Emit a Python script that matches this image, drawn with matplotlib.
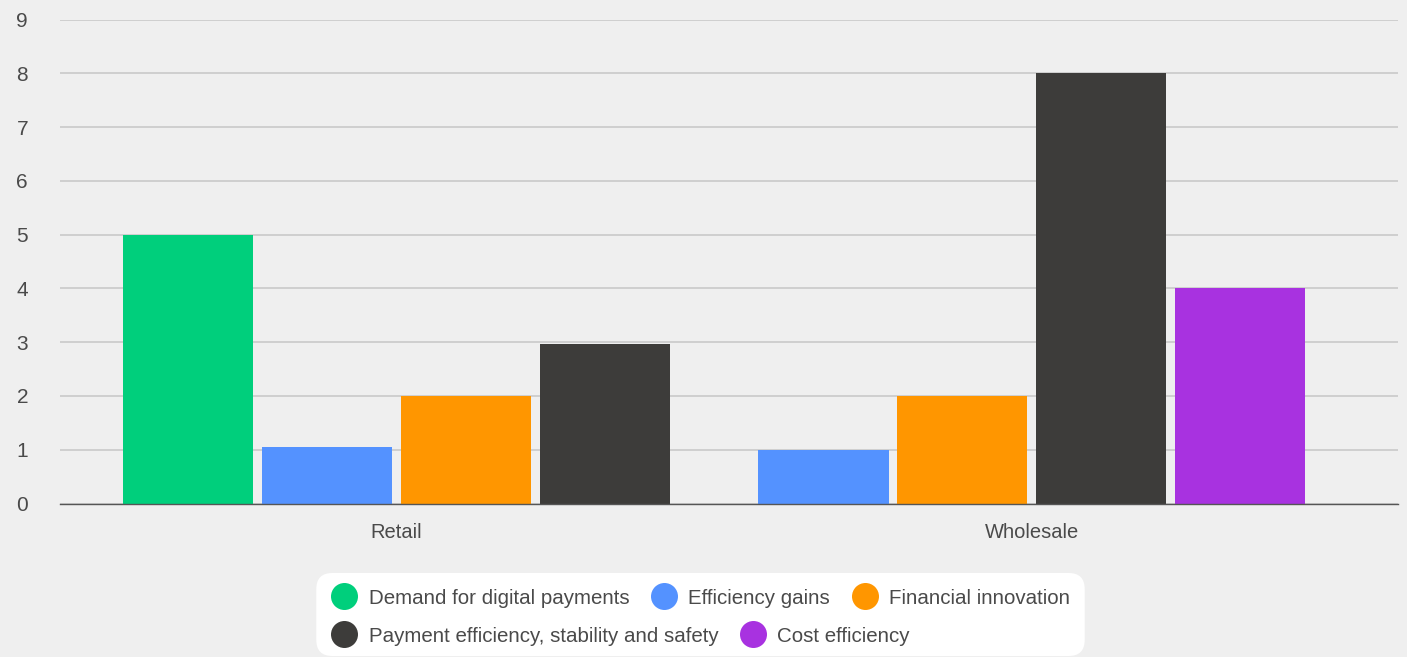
import numpy as np
import matplotlib
matplotlib.use("Agg")
import matplotlib.pyplot as plt
from matplotlib.patches import FancyBboxPatch
from matplotlib.lines import Line2D
from matplotlib.transforms import IdentityTransform

# Data
categories = ["Retail", "Wholesale"]
series_names = ["Demand for digital payments", "Efficiency gains", "Financial innovation",
                "Payment efficiency, stability and safety", "Cost efficiency"]
series_values = [
    [5, None],      # Demand for digital payments
    [1.05, 1],      # Efficiency gains
    [2, 2],         # Financial innovation
    [2.97, 8],      # Payment efficiency, stability and safety
    [None, 4],      # Cost efficiency
]
series_colors = ["#00cf7c", "#5492ff", "#ff9600", "#3d3c3a", "#a832e0"]
y_ticks = list(range(0, 10))

# Style
bg = "#efefef"
text_color = "#4a4a4a"
font = "Liberation Sans"
plt.rcParams["font.family"] = [font, "DejaVu Sans"]

W, H = 1407, 657
fig = plt.figure(figsize=(W / 100, H / 100), dpi=100, facecolor=bg)

# axes placed in pixel terms
left, right, top, bottom = 60, 1398, 19.5, 503.5
ax = fig.add_axes([left / W, (H - bottom) / H, (right - left) / W, (bottom - top) / H])
ax.set_facecolor(bg)

bar_w = 0.2046
step = 0.2187

# bars of each category are packed together, skipping missing series
for ci, cat in enumerate(categories):
    present = [si for si in range(len(series_names)) if series_values[si][ci] is not None]
    n = len(present)
    for k, si in enumerate(present):
        xpos = ci + (k - (n - 1) / 2) * step
        ax.bar(xpos, series_values[si][ci], width=bar_w, color=series_colors[si], zorder=3)

ax.set_xlim(-0.5295, 1.576)
ax.set_ylim(0, 9)
ax.set_yticks(y_ticks)
ax.set_xticks(range(len(categories)))
ax.set_xticklabels(categories)
ax.grid(axis="y", color="#c6c6c6", linewidth=1.1, zorder=0)
ax.tick_params(axis="y", length=0, pad=23, labelsize=15, labelcolor=text_color)
ax.tick_params(axis="x", length=0, pad=14, labelsize=14.5, labelcolor=text_color)
for side in ["top", "right", "left"]:
    ax.spines[side].set_visible(False)
ax.spines["bottom"].set_color("#555555")
ax.spines["bottom"].set_linewidth(1.0)
ax.spines["bottom"].set_zorder(4)

# legend drawn as a flow layout in a rounded white box
rows = [[0, 1, 2], [3, 4]]
legend_size = 14.8
circle_d = 27
gap_text = 11
gap_item = 21
pad_x = 14.5
row_y = [596, 634]

renderer = fig.canvas.get_renderer()


def text_width(s):
    t = fig.text(0, 0, s, fontsize=legend_size)
    w = t.get_window_extent(renderer).width
    t.remove()
    return w


row_widths = []
for row in rows:
    w = 0
    for j, si in enumerate(row):
        w += circle_d + gap_text + text_width(series_names[si])
        if j < len(row) - 1:
            w += gap_item
    row_widths.append(w)

box_w = max(row_widths) + 2 * pad_x
box_cx = 700.5
box_x0 = box_cx - box_w / 2
box = FancyBboxPatch((box_x0, 1), box_w, H - 573 - 1,
                     boxstyle="round,pad=0,rounding_size=16",
                     transform=IdentityTransform(), facecolor="white",
                     edgecolor="none", zorder=1)
fig.add_artist(box)

for row, ry in zip(rows, row_y):
    x = box_x0 + pad_x
    y = H - ry
    for si in row:
        fig.add_artist(Line2D([x + circle_d / 2], [y], marker="o", markersize=circle_d * 0.72,
                              markerfacecolor=series_colors[si], markeredgecolor="none",
                              linestyle="none", transform=IdentityTransform(), zorder=2))
        x += circle_d + gap_text
        fig.text(x / W, y / H, series_names[si], fontsize=legend_size, color=text_color,
                 ha="left", va="center_baseline", zorder=3)
        x += text_width(series_names[si]) + gap_item

fig.savefig("out.png", dpi=100, facecolor=bg)
